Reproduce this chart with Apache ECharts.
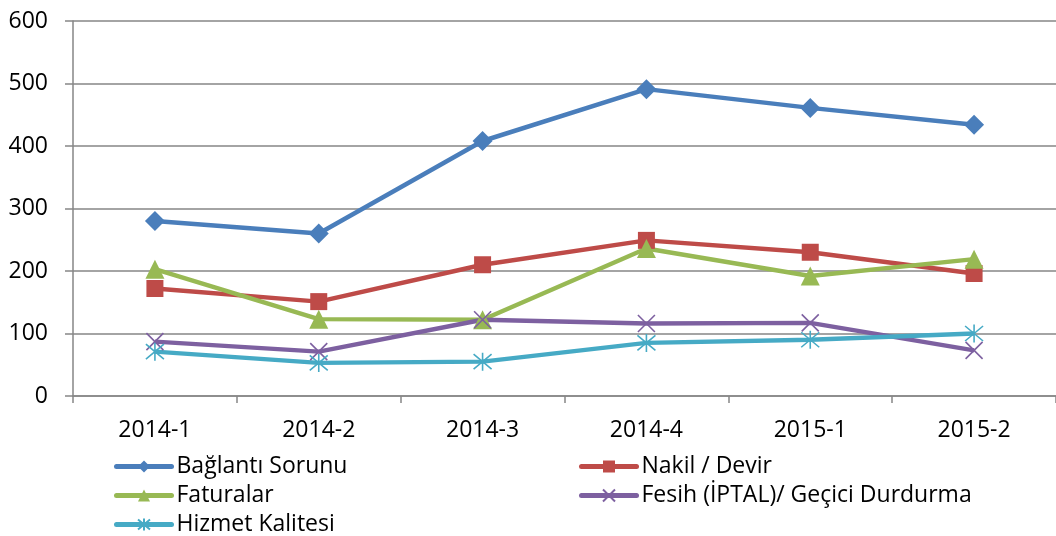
<!DOCTYPE html>
<html>
<head>
<meta charset="utf-8">
<script src="https://cdn.jsdelivr.net/npm/echarts@6/dist/echarts.min.js"></script>
<style>
  html, body { margin: 0; padding: 0; background: #fff; }
  #chart { width: 1056px; height: 536px; }
</style>
</head>
<body>
<div id="chart"></div>
<script>
// categories and values
const periods = ["2014-1", "2014-2", "2014-3", "2014-4", "2015-1", "2015-2"];
const baglanti = [280, 260, 408, 491, 461, 434];
const nakil = [172, 151, 210, 249, 230, 196];
const faturalar = [203, 123, 122, 236, 192, 219];
const fesih = [87, 71, 122, 116, 117, 73];
const hizmet = [71, 53, 55, 85, 90, 100];
const yTicks = [0, 100, 200, 300, 400, 500, 600];

const FONT = "Open Sans";
const gridGray = "#868686";

// open marks (x and asterisk) need to be drawn as stroked paths
const crossPath = "path://M0,0L10,10M10,0L0,10";
const starPath = "path://M0,1L10,11M10,1L0,11M5,0L5,12";

function lineSeries(name, data, color, symbol, size, open) {
  return {
    name: name,
    type: "line",
    data: data,
    symbol: symbol,
    symbolSize: size,
    showSymbol: true,
    lineStyle: { color: color, width: 4.5 },
    itemStyle: open
      ? { color: "rgba(0,0,0,0)", borderColor: color, borderWidth: 1.6 }
      : { color: color, borderWidth: 0 },
    emphasis: { disabled: true },
    animation: false,
  };
}

const chart = echarts.init(document.getElementById("chart"), null, { renderer: "canvas" });

const legendText = { fontFamily: FONT, fontSize: 23, color: "#000", lineHeight: 23 };
const legendBase = {
  orient: "vertical",
  top: 455,
  padding: 0,
  itemWidth: 55,
  itemHeight: 15,
  itemGap: 6,
  textStyle: legendText,
  lineStyle: { width: 5, cap: "round" },
  selectedMode: false,
};

chart.setOption({
  backgroundColor: "#fff",
  grid: { left: 73, top: 21, width: 987, height: 375, containLabel: false },
  xAxis: {
    type: "category",
    data: periods,
    boundaryGap: true,
    axisLine: { lineStyle: { color: gridGray, width: 1.5 } },
    axisTick: { show: true, length: 7, alignWithLabel: false, lineStyle: { color: gridGray, width: 1.5 } },
    axisLabel: { fontFamily: FONT, fontSize: 23, color: "#000", margin: 23 },
    splitLine: { show: false },
  },
  yAxis: {
    type: "value",
    min: yTicks[0],
    max: yTicks[yTicks.length - 1],
    interval: 100,
    axisLine: { show: true, lineStyle: { color: gridGray, width: 1.5 } },
    axisTick: { show: true, length: 8, lineStyle: { color: gridGray, width: 1.5 } },
    axisLabel: { fontFamily: FONT, fontSize: 23, color: "#000", margin: 25 },
    splitLine: { show: true, lineStyle: { color: gridGray, width: 1.5 } },
  },
  legend: [
    Object.assign({}, legendBase, {
      data: ["Bağlantı Sorunu", "Faturalar", "Hizmet Kalitesi"],
      left: 114,
    }),
    Object.assign({}, legendBase, {
      data: ["Nakil / Devir", "Fesih (İPTAL)/ Geçici Durdurma"],
      left: 579,
    }),
  ],
  series: [
    lineSeries("Bağlantı Sorunu", baglanti, "#4A7EBB", "diamond", 20, false),
    lineSeries("Nakil / Devir", nakil, "#BE4B48", "rect", 17, false),
    lineSeries("Faturalar", faturalar, "#98B954", "triangle", 19, false),
    lineSeries("Fesih (İPTAL)/ Geçici Durdurma", fesih, "#7D60A0", crossPath, 17, true),
    lineSeries("Hizmet Kalitesi", hizmet, "#46AAC5", starPath, 18, true),
  ],
});
</script>
</body>
</html>
